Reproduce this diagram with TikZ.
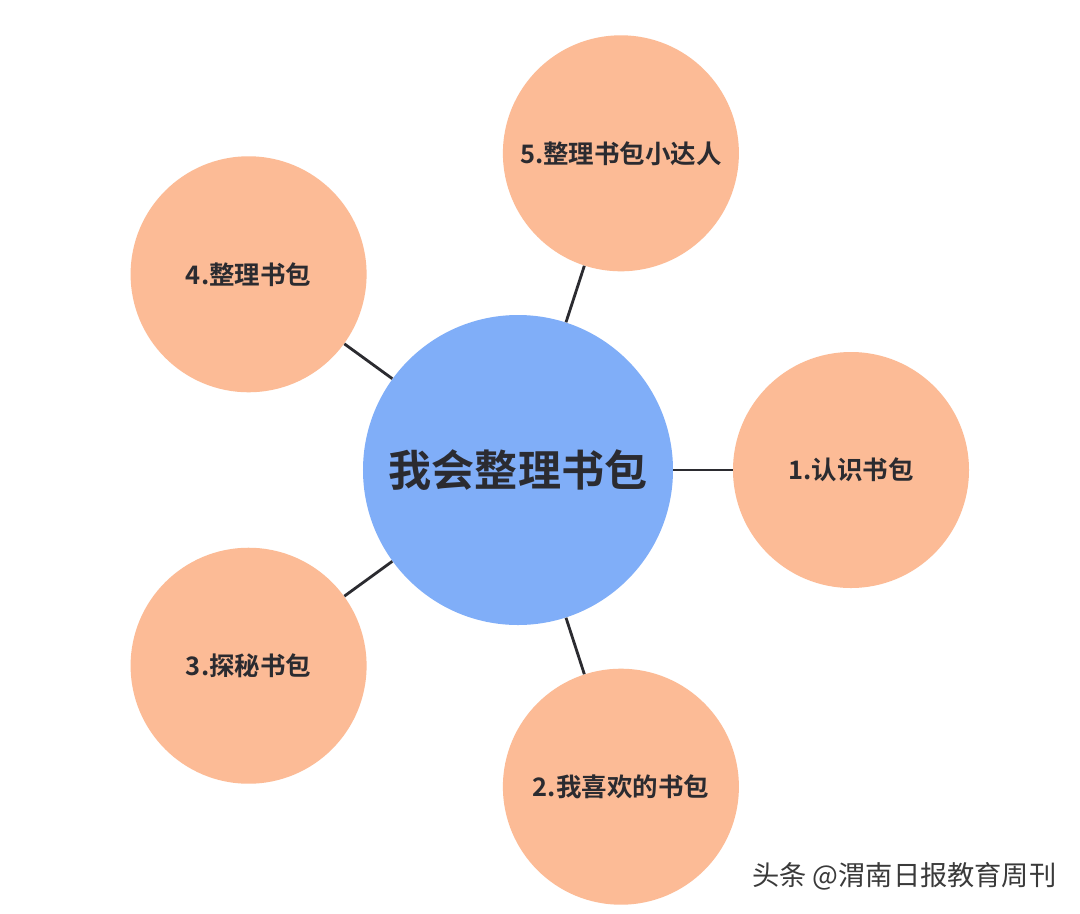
\documentclass[tikz,border=0pt]{standalone}
\usepackage{fontspec}
\usepackage{xcolor}
\usepackage{tikz}
\usetikzlibrary{positioning}
\newfontfamily\cjk{Noto Sans CJK SC}
\newfontfamily\cjkbold{Noto Sans CJK SC Bold}
\definecolor{hubblue}{HTML}{80AEF8}
\definecolor{peach}{HTML}{FCBB96}
\definecolor{ink}{HTML}{2B2B30}
\definecolor{muted}{HTML}{3A3A3A}
\tikzset{
  hub/.style={circle,fill=hubblue,inner sep=0pt,minimum size=6.2cm,
              font=\cjkbold\fontsize{24.5}{28}\selectfont,text=ink},
  topic/.style={circle,fill=peach,inner sep=0pt,minimum size=4.72cm,
                font=\cjkbold\fontsize{14.5}{18}\selectfont,text=ink},
  link/.style={line width=1.6pt,ink},
}
\begin{document}
\begin{tikzpicture}
  \useasboundingbox(-10.36,-8.86)rectangle(11.24,9.4);
  \fill[white](-10.36,-8.86)rectangle(11.24,9.4);
  \node[hub](hub)at(0,0){我会整理书包};
  \node[topic](t1)at(0:6.66){1.认识书包};
  \node[topic](t2)at(288:6.66){2.我喜欢的书包};
  \node[topic](t3)at(216:6.66){3.探秘书包};
  \node[topic](t4)at(144:6.66){4.整理书包};
  \node[topic](t5)at(72:6.66){5.整理书包小达人};
  \draw[link](hub)--(t1);
  \draw[link](hub)--(t2);
  \draw[link](hub)--(t3);
  \draw[link](hub)--(t4);
  \draw[link](hub)--(t5);
  \node[font=\cjk\fontsize{15.5}{18}\selectfont,text=muted,anchor=west]
    (mark)at(4.56,-8.12){头条 @渭南日报教育周刊};
\end{tikzpicture}
\end{document}
